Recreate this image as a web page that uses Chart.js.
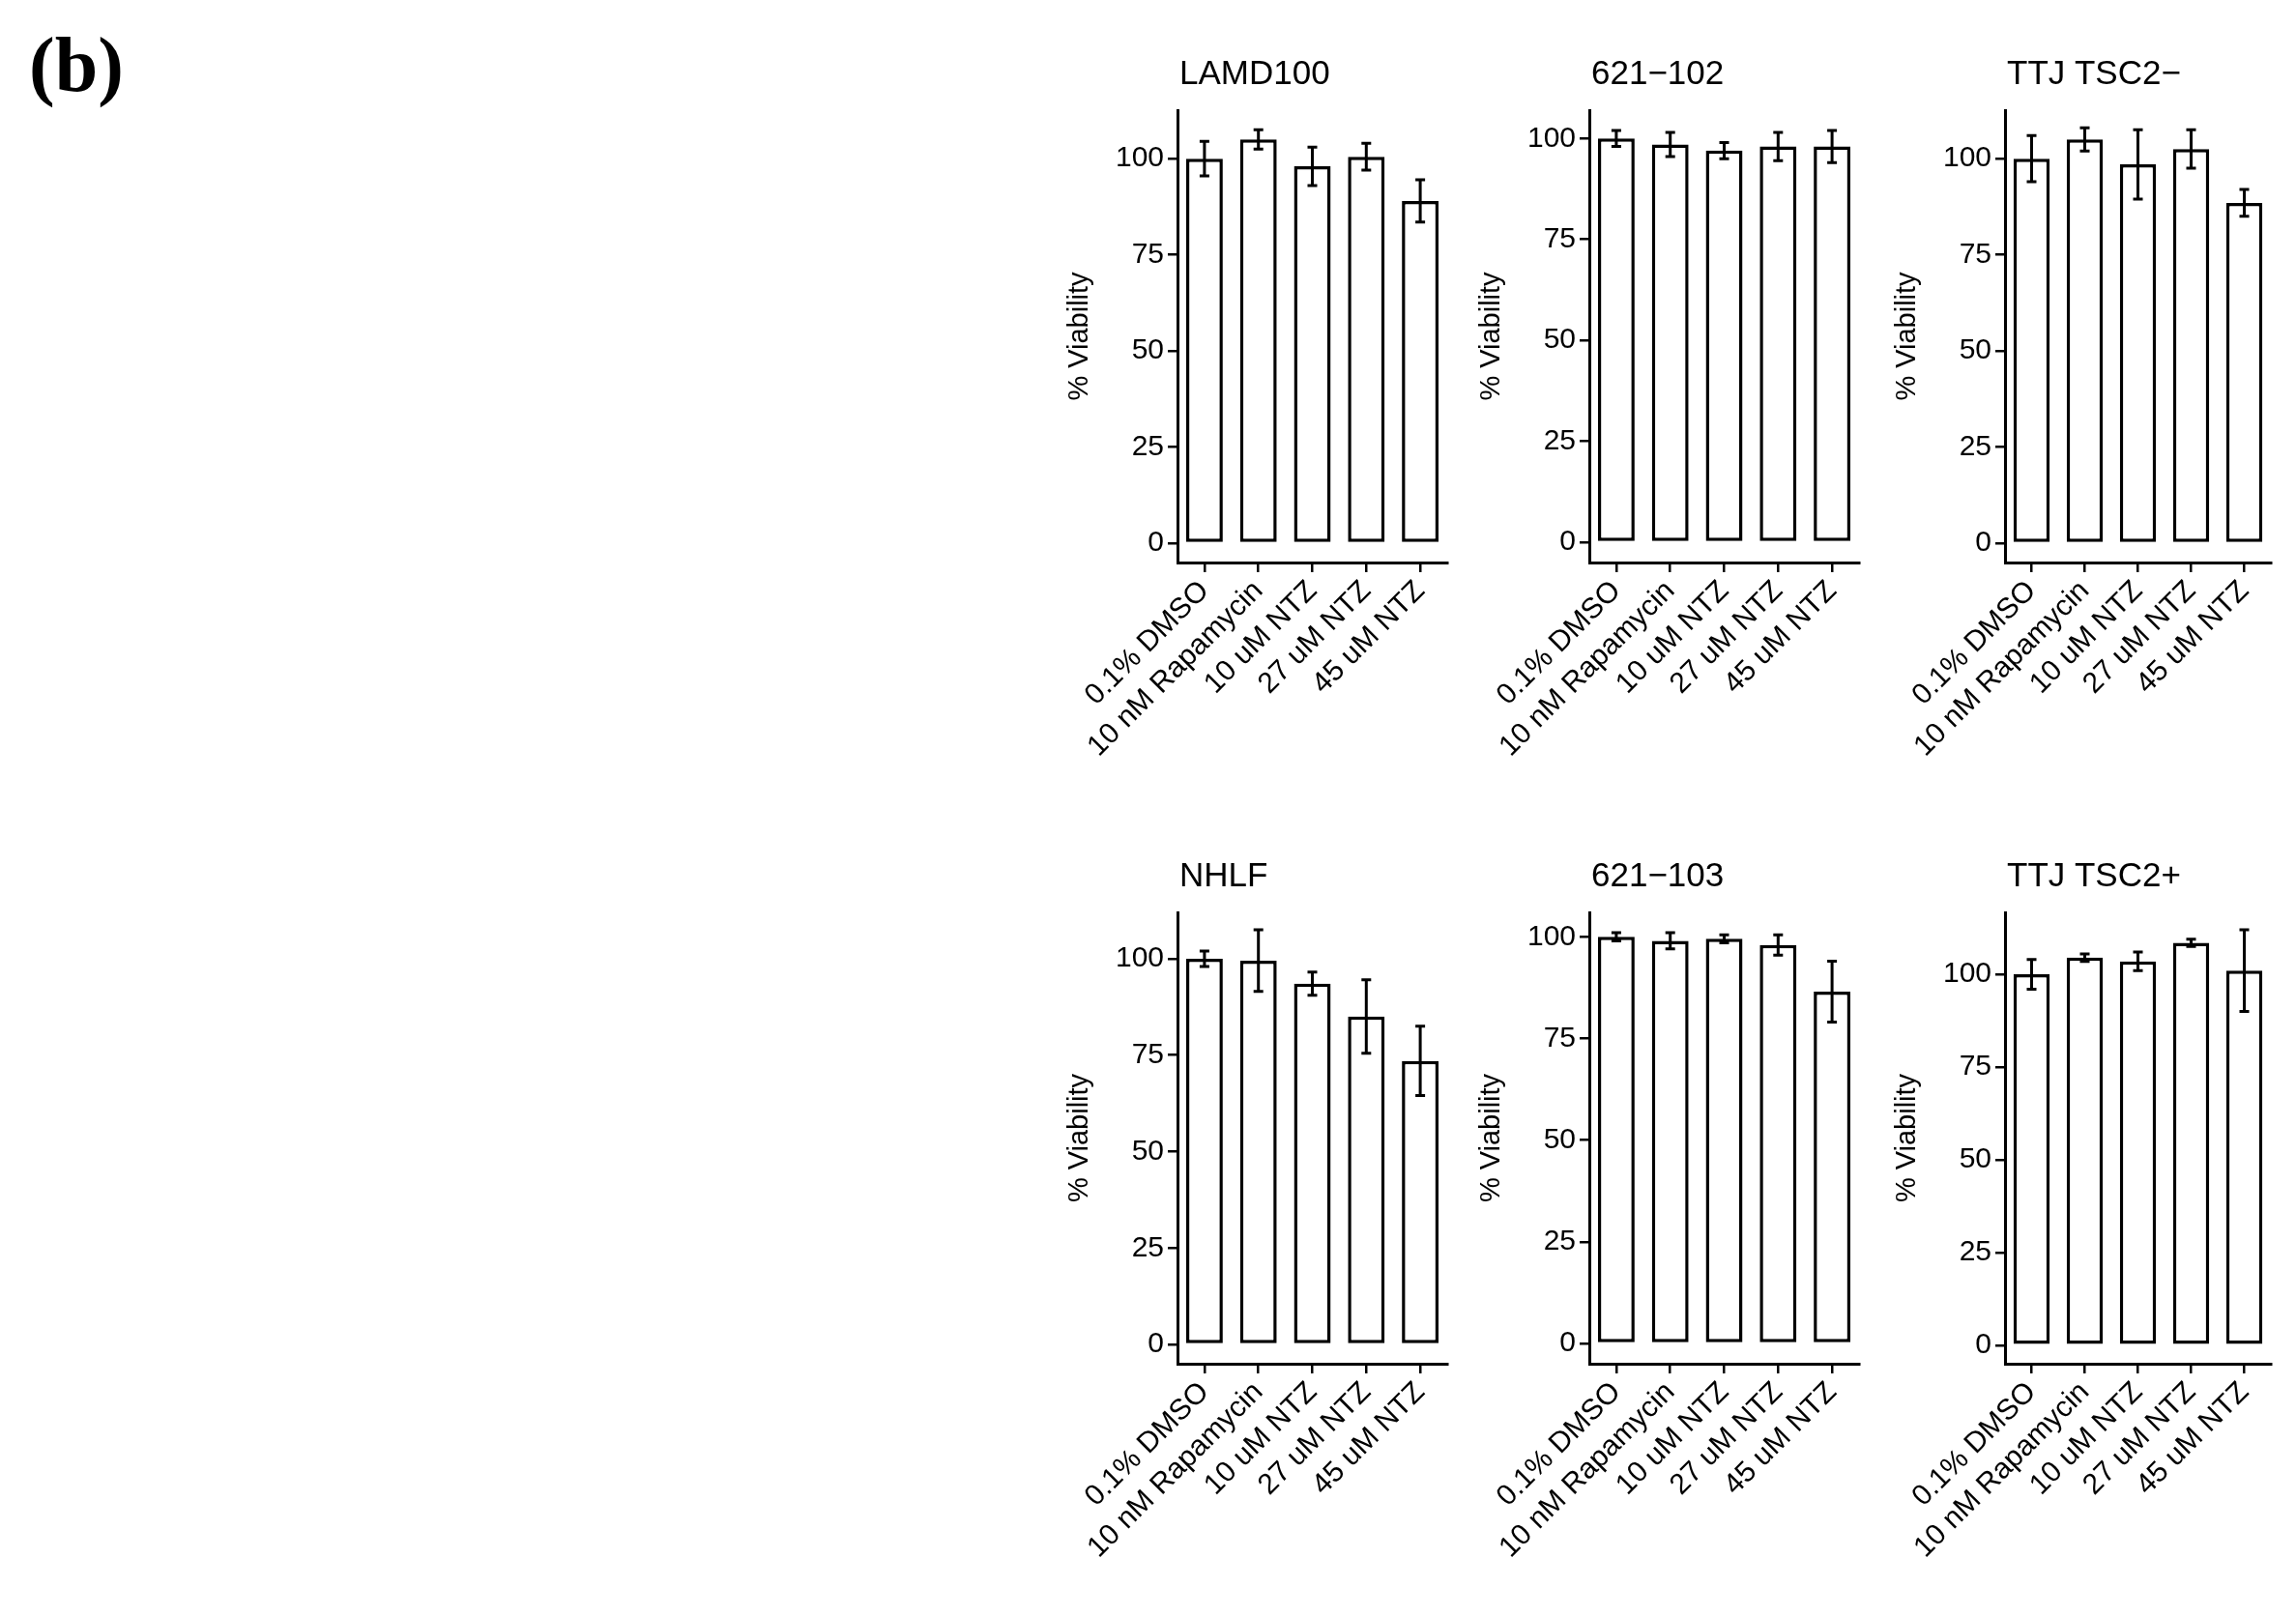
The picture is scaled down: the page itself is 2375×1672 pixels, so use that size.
<!DOCTYPE html>
<html><head><meta charset="utf-8">
<script src="https://cdn.jsdelivr.net/npm/chart.js@4"></script>
<style>
body{margin:0;background:#fff;width:2375px;height:1672px;position:relative;overflow:hidden}
canvas{position:absolute}
#lbl{position:absolute;left:30px;top:22px;font:bold 80px "Liberation Serif",serif}
</style></head><body>
<div id="lbl">(b)</div>
<script>
const categories = ["0.1% DMSO","10 nM Rapamycin","10 uM NTZ","27 uM NTZ","45 uM NTZ"];
const tickValues = [0,25,50,75,100];
const panelTitles = ["LAMD100","621\u2212102","TTJ TSC2\u2212","NHLF","621\u2212103","TTJ TSC2+"];
const lamd100 = [100,105,98,100.5,89];
const lamd100Err = [4.5,2.5,5,3.5,5.5];
const c621_102 = [100,98.5,97,98,98];
const c621_102Err = [2,3,2,3.5,4];
const ttjMinus = [100,105,98.5,102.5,88.5];
const ttjMinusErr = [6,3,9,5,3.5];
const nhlf = [100,99.5,93.5,85,73.5];
const nhlfErr = [2,8,3,9.5,9];
const c621_103 = [100,99,99.5,98,86.5];
const c621_103Err = [1,2,1,2.5,7.5];
const ttjPlus = [100,104.5,103.5,108.5,101];
const ttjPlusErr = [4,1,2.5,1,11];
const seriesVals = [lamd100,c621_102,ttjMinus,nhlf,c621_103,ttjPlus];
const seriesErr = [lamd100Err,c621_102Err,ttjMinusErr,nhlfErr,c621_103Err,ttjPlusErr];
const yMax = [112.6,107,112.6,112,106,116.7];

const S = 2375/1560;
const axisX = [800,1080,1362], axisEnd=[983,1263,1543];
const rowTop=[0,830], plotTop=[75,620], plotBot=[382,927];
const YW=118, CH=830;
const FONT='"Liberation Sans", Arial, sans-serif';

const errPlugin={id:'err',afterDatasetsDraw(ch){
  const c=ch.ctx,x=ch.scales.x,y=ch.scales.y,i=ch.options.plugins.err.idx;
  c.save();c.strokeStyle='#000';c.lineWidth=3;
  seriesVals[i].forEach((v,k)=>{const px=x.getPixelForValue(k),e=seriesErr[i][k];
    const t=y.getPixelForValue(v+e),b=y.getPixelForValue(v-e);
    c.beginPath();c.moveTo(px,t);c.lineTo(px,b);c.moveTo(px-5,t);c.lineTo(px+5,t);c.moveTo(px-5,b);c.lineTo(px+5,b);c.stroke();});
  c.fillStyle='#000';c.font='35px '+FONT;c.textBaseline='alphabetic';
  c.fillText(panelTitles[i],ch.chartArea.left+2,ch.chartArea.top-27);
  c.restore();}};

for(let i=0;i<6;i++){
  const r=Math.floor(i/3),col=i%3;
  const cv=document.createElement('canvas');
  const left=Math.round(axisX[col]*S)-YW, right=Math.round(axisEnd[col]*S);
  const w=right-left+40;
  cv.style.left=left+'px';cv.style.top=rowTop[r]+'px';cv.style.width=w+'px';cv.style.height=CH+'px';
  cv.width=w;cv.height=CH;
  document.body.appendChild(cv);
  const topPad=Math.round(plotTop[r]*S)-rowTop[r];
  const xH=CH-(Math.round(plotBot[r]*S)-rowTop[r]);
  new Chart(cv,{type:'bar',
    data:{labels:categories,datasets:[{data:seriesVals[i],backgroundColor:'#fff',borderColor:'#000',borderWidth:3.5,barPercentage:0.68,categoryPercentage:1,borderSkipped:false}]},
    options:{responsive:false,animation:false,devicePixelRatio:1,
      layout:{padding:{top:topPad,right:40,left:0,bottom:0}},
      plugins:{legend:{display:false},tooltip:{enabled:false},err:{idx:i}},
      scales:{
        x:{offset:true,grid:{display:true,drawOnChartArea:false,color:'#000',lineWidth:2.5,tickLength:10,offset:false},
           border:{color:'#000',width:3},
           ticks:{color:'#000',font:{size:30,family:FONT},minRotation:45,maxRotation:45,padding:2,autoSkip:false},
           afterFit(s){s.height=xH;}},
        y:{min:-5,max:yMax[i],grid:{drawOnChartArea:false,color:'#000',lineWidth:2.5,tickLength:10},
           border:{color:'#000',width:3},
           afterBuildTicks(s){s.ticks=tickValues.map(v=>({value:v}));},
           ticks:{color:'#000',font:{size:30,family:FONT},padding:4},
           title:{display:true,text:'% Viability',color:'#000',font:{size:29,family:FONT},padding:0},
           afterFit(s){s.width=YW;}}}},
    plugins:[errPlugin]});
}
</script></body></html>
